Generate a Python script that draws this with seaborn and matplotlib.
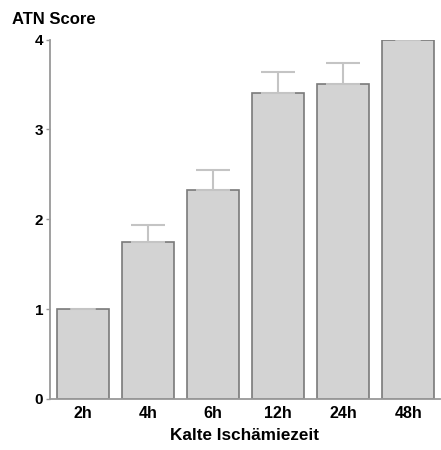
import matplotlib
matplotlib.use("Agg")
import matplotlib.pyplot as plt
import seaborn as sns
import pandas as pd
import numpy as np

# ATN score by cold ischemia time (mean with upper error)
categories = ["2h", "4h", "6h", "12h", "24h", "48h"]
atn_score = [1.0, 1.75, 2.33, 3.40, 3.50, 4.0]
atn_error = [0.0, 0.19, 0.22, 0.24, 0.24, 0.0]

sns.set_style("white")
plt.rcParams["font.family"] = ["Liberation Sans", "DejaVu Sans"]
plt.rcParams["text.color"] = "black"
plt.rcParams["xtick.labelcolor"] = "black"
plt.rcParams["ytick.labelcolor"] = "black"
plt.rcParams["axes.labelcolor"] = "black"

df = pd.DataFrame({"time": categories, "score": atn_score})

fig = plt.figure(figsize=(4.41, 4.5), dpi=100)
ax = fig.add_axes([50 / 441, 1 - 399 / 450, 390 / 441, 359.5 / 450])

sns.barplot(data=df, x="time", y="score", order=categories, color="#d3d3d3",
            edgecolor="#7a7a7a", linewidth=1.2, width=0.8, saturation=1,
            errorbar=None, ax=ax)

pos = np.arange(len(categories))
vals = np.array(atn_score)
errs = np.array(atn_error)
mask = errs > 0
ax.errorbar(pos[mask], vals[mask], yerr=[np.zeros(mask.sum()), errs[mask]],
            fmt="none", ecolor="#c4c4c4", elinewidth=1.5, capsize=12,
            capthick=1.5, zorder=1)
# caps drawn on bars with zero error
for p, v, e in zip(pos, vals, errs):
    if e == 0:
        ax.plot([p - 0.18, p + 0.18], [v, v], color="#c4c4c4", lw=1.5, zorder=3)

ax.set_xlim(-0.51, 5.49)
ax.set_ylim(0, 4)
ax.set_yticks([0, 1, 2, 3, 4])
ax.set_yticklabels(["0", "1", "2", "3", "4"], fontsize=11, fontweight="bold")
ax.set_xticks(pos)
ax.set_xticklabels(categories, fontsize=11.5, fontweight="bold")
ax.tick_params(axis="x", which="major", length=0, pad=5, labelcolor="black")
ax.set_xticks(pos[:-1] + 0.5, minor=True)
ax.tick_params(axis="x", which="minor", length=3, width=1, color="#999999",
               direction="out")
ax.tick_params(axis="y", length=3, width=1, color="#999999", direction="out",
               pad=2, left=True, labelcolor="black")

for side in ["top", "right"]:
    ax.spines[side].set_visible(False)
for side in ["left", "bottom"]:
    ax.spines[side].set_color("#999999")
    ax.spines[side].set_linewidth(1.3)

ax.set_xlabel("Kalte Ischämiezeit", fontsize=12.3, fontweight="bold", labelpad=5,
              color="black")
ax.set_ylabel("")
fig.text(12 / 441, 1 - 24 / 450, "ATN Score", fontsize=12, fontweight="bold",
         ha="left", va="baseline", color="black")

fig.savefig("out.png", dpi=100)
